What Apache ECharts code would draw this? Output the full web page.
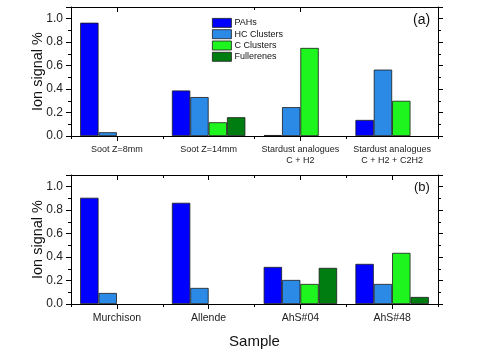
<!DOCTYPE html>
<html>
<head>
<meta charset="utf-8">
<script src="https://cdn.jsdelivr.net/npm/echarts@6/dist/echarts.min.js"></script>
<style>html,body{margin:0;padding:0;background:#fff}#c{width:485px;height:360px}</style>
</head>
<body>
<div id="c"></div>
<script>
var categoriesA = ['Soot Z=8mm', 'Soot Z=14mm', 'Stardust analogues\nC + H2', 'Stardust analogues\nC + H2 + C2H2'];
var categoriesB = ['Murchison', 'Allende', 'AhS#04', 'AhS#48'];
var seriesNames = ['PAHs', 'HC Clusters', 'C Clusters', 'Fullerenes'];
var pahsA = [0.966, 0.388, 0.008, 0.137];
var hcA = [0.032, 0.332, 0.246, 0.566];
var cA = [0, 0.117, 0.751, 0.300];
var fullA = [0, 0.160, 0, 0];
var pahsB = [0.906, 0.863, 0.316, 0.342];
var hcB = [0.094, 0.137, 0.205, 0.171];
var cB = [0, 0, 0.171, 0.436];
var fullB = [0, 0, 0.308, 0.060];
var yMin = 0, yMax = 1.1, yInterval = 0.2;
var colors = ['#0000ff', '#2b8ae6', '#1ef51e', '#007d10'];

var FONT = 'Liberation Sans';
var chart = echarts.init(document.getElementById('c'));

function xAxes(gridIndex, cats, labelSize, labelMargin) {
  var line = {show: true, lineStyle: {color: '#000', width: 1}};
  return [
    {type: 'category', gridIndex: gridIndex, data: cats, position: 'bottom',
     axisLine: line, axisTick: {show: true, length: 3, lineStyle: {color: '#000'}},
     axisLabel: {fontFamily: FONT, fontSize: labelSize, color: '#222', margin: labelMargin, lineHeight: 11, interval: 0},
     name: gridIndex === 1 ? 'Sample' : '', nameLocation: 'middle', nameGap: 30,
     nameTextStyle: {fontFamily: FONT, fontSize: 15, color: '#111'}},
    {type: 'category', gridIndex: gridIndex, data: cats, position: 'bottom',
     axisLine: {show: false}, axisTick: {show: true, length: 5, alignWithLabel: true, lineStyle: {color: '#000'}},
     axisLabel: {show: false}},
    {type: 'category', gridIndex: gridIndex, data: cats, position: 'top',
     axisLine: line, axisTick: {show: true, inside: true, length: 3, lineStyle: {color: '#000'}},
     axisLabel: {show: false}},
    {type: 'category', gridIndex: gridIndex, data: cats, position: 'top',
     axisLine: {show: false}, axisTick: {show: true, inside: true, alignWithLabel: true, length: 5, lineStyle: {color: '#000'}},
     axisLabel: {show: false}}
  ];
}
function yAxes(gridIndex) {
  var line = {show: true, lineStyle: {color: '#000', width: 1}};
  return [
    {type: 'value', gridIndex: gridIndex, min: yMin, max: yMax, interval: yInterval, position: 'left',
     axisLine: line, splitLine: {show: false},
     axisTick: {show: true, length: 5, lineStyle: {color: '#000'}},
     minorTick: {show: true, splitNumber: 2, length: 3, lineStyle: {color: '#000'}},
     axisLabel: {fontFamily: FONT, fontSize: 12, color: '#222', margin: 8, showMaxLabel: false,
                 formatter: function (v) { return v.toFixed(1); }},
     name: 'Ion signal %', nameLocation: 'middle', nameGap: 26, nameMoveOverlap: false,
     nameTextStyle: {fontFamily: FONT, fontSize: 14.5, color: '#111'}},
    {type: 'value', gridIndex: gridIndex, min: yMin, max: yMax, interval: yInterval, position: 'right',
     axisLine: line, splitLine: {show: false},
     axisTick: {show: true, length: 5, lineStyle: {color: '#000'}},
     minorTick: {show: true, splitNumber: 2, length: 3, lineStyle: {color: '#000'}},
     axisLabel: {show: false}}
  ];
}

var dataA = [pahsA, hcA, cA, fullA];
var dataB = [pahsB, hcB, cB, fullB];
var series = [];
[dataA, dataB].forEach(function (set, g) {
  set.forEach(function (vals, i) {
    series.push({
      type: 'bar', name: seriesNames[i], xAxisIndex: g * 4, yAxisIndex: g * 2,
      data: vals.map(function (v) { return v === 0 ? '-' : v; }), barGap: '0%', barCategoryGap: '20%',
      itemStyle: {color: colors[i], borderColor: '#1a1a1a', borderWidth: 0.8},
      emphasis: {disabled: true}, animation: false
    });
  });
});

chart.setOption({
  animation: false,
  color: colors,
  grid: [
    {left: 71, top: 7, width: 367, height: 129},
    {left: 71, top: 175, width: 367, height: 129}
  ],
  xAxis: xAxes(0, categoriesA, 9, 8).concat(xAxes(1, categoriesB, 10.5, 9)),
  yAxis: yAxes(0).concat(yAxes(1)),
  legend: {
    show: true, orient: 'vertical', left: 212, top: 18, itemWidth: 19, itemHeight: 9, itemGap: 1.5,
    padding: 0, icon: 'rect', data: seriesNames,
    textStyle: {fontFamily: FONT, fontSize: 9, color: '#111', lineHeight: 9, padding: [0, 0, 0, -2]},
    itemStyle: {borderColor: '#1a1a1a', borderWidth: 0.8}
  },
  graphic: [
    {type: 'text', left: 413, top: 13, style: {text: '(a)', fontFamily: FONT, fontSize: 14, fill: '#111'}},
    {type: 'text', left: 414, top: 181, style: {text: '(b)', fontFamily: FONT, fontSize: 13, fill: '#111'}}
  ],
  series: series
});
</script>
</body>
</html>
